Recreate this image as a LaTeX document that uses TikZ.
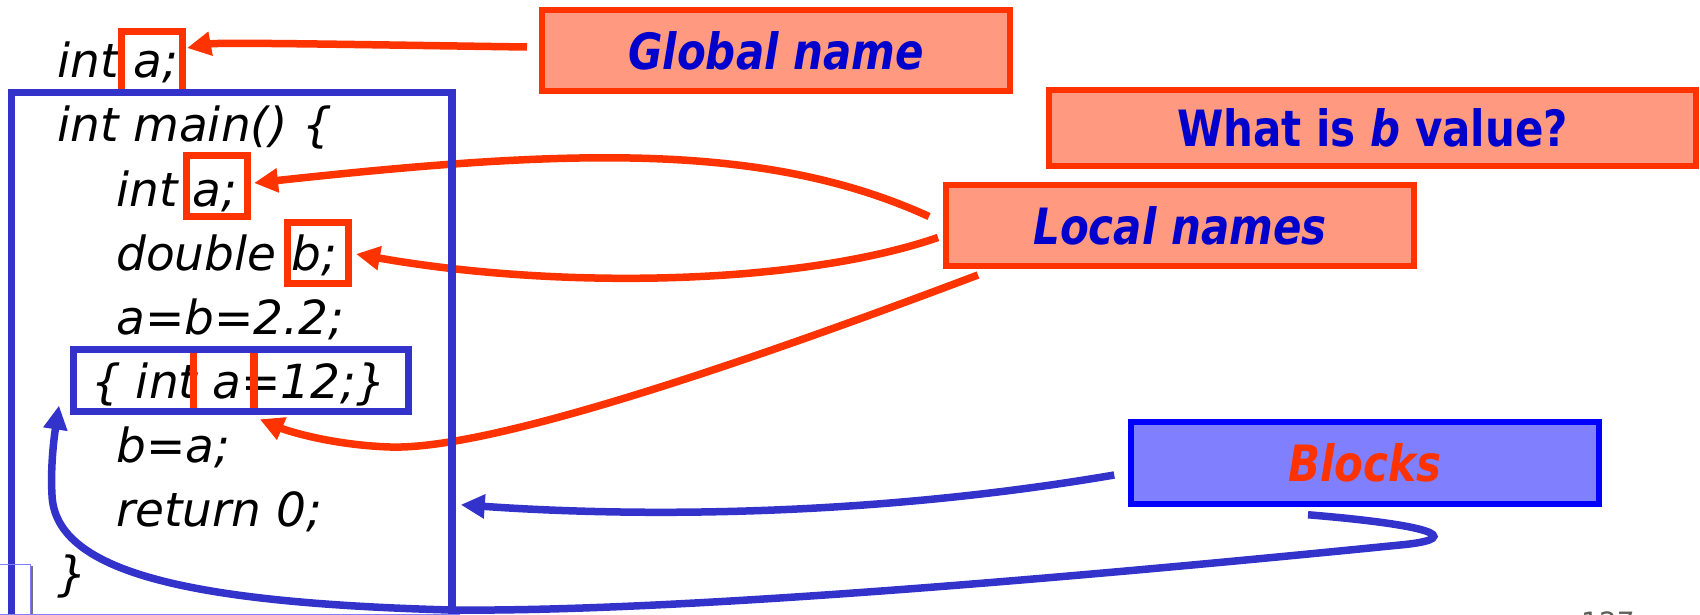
\documentclass[tikz,border=0pt]{standalone}
\usepackage{fontspec}
\usetikzlibrary{arrows.meta,calc}
\newfontfamily\codefont{DejaVu Sans}
\newfontfamily\tagfont[FakeStretch=0.84]{DejaVu Sans}
\definecolor{cred}{HTML}{FF3300}
\definecolor{csalmon}{HTML}{FF9980}
\definecolor{ctext}{HTML}{0000CC}
\definecolor{cblue}{HTML}{3333CC}
\definecolor{bfill}{HTML}{8080FF}
\definecolor{bstroke}{HTML}{0000FF}
\definecolor{pggray}{HTML}{5F5F58}
\begin{document}
\begin{tikzpicture}[x=1pt,y=-1pt,
  codeline/.style={anchor=base west, inner sep=0pt, font=\codefont\itshape\fontsize{47}{56}\selectfont},
  redbox/.style={draw=cred, line width=7pt, minimum width=61pt, minimum height=61pt, inner sep=0pt},
  bluebox/.style={draw=cblue, line width=7.5pt, inner sep=0pt},
  tagbox/.style={draw=cred, fill=csalmon, line width=6pt, inner sep=0pt, minimum width=468pt, minimum height=81pt, text=ctext, font=\tagfont\bfseries\fontsize{50}{60}\selectfont},
  redarrow/.style={draw=cred, line width=7.5pt, -{Triangle[length=24pt,width=23pt]}},
  bluearrow/.style={draw=cblue, line width=7.5pt, -{Triangle[length=24pt,width=23pt]}},
]
\useasboundingbox (0,0) rectangle (1700,615);
\fill[white] (0,0) rectangle (1700,615);
\clip (0,0) rectangle (1700,615);

% code
\node[codeline] (c1) at (57,78) {int a;};
\node[codeline] (c2) at (57,142) {int main() \{};
\node[codeline] (c3) at (116,206) {int a;};
\node[codeline] (c4) at (116,270) {double b;};
\node[codeline] (c5) at (116,334) {a=b=2.2;};
\node[codeline] (c6) at (91,398) {\{ int a=12;\}};
\node[codeline] (c7) at (116,462) {b=a;};
\node[codeline] (c8) at (116,526) {return 0;};
\node[codeline] (c9) at (57,590) {\}};

% red boxes
\node[redbox] (r1) at (152,62) {};
\node[redbox] (r3) at (217,186) {};
\node[redbox] (r4) at (318,253) {};
\node[redbox, line width=7.5pt, minimum width=60.5pt, minimum height=62pt] (r6) at (223.75,380.5) {};

% label boxes
\node[tagbox] (glob) at (776,50.5) {\itshape Global name};
\node[tagbox, minimum width=647pt, minimum height=76pt] (whatb) at (1372.5,128) {What is \textit{b} value?};
\node[tagbox] (loc) at (1180,225.5) {\itshape Local names};
\node[tagbox, draw=bstroke, fill=bfill, text=cred, line width=5.5pt, minimum height=82pt] (blk) at (1365,463) {\itshape Blocks};

% red connectors
\draw[redarrow] ($(glob.west)+(-12,-3.5)$) .. controls (380,45) and (220,42) .. ($(r1.north east)+(1,20)$);
\draw[redarrow] ($(loc.west)+(-14,-9)$) .. controls (762,140) and (560,150) .. ($(r3.east)+(3,-3)$);
\draw[redarrow] ($(loc.west)+(-5,12)$) .. controls (800,285) and (560,290) .. ($(r4.east)+(4,1)$);
\draw[redarrow] ($(loc.south west)+(35,6)$) .. controls (700,380) and (480,450) .. (390,447) .. controls (330,445) and (285,430) .. ($(r6.south east)+(2,4)$);

% blue boxes
\node[bluebox, minimum width=440.5pt, minimum height=525pt] (big) at (231.75,355) {};
\node[bluebox, line width=7pt, minimum width=335pt, minimum height=62pt] (ib) at (241,380.5) {};

% blue connectors
\draw[bluearrow] ($(blk.west)+(-14,12)$) .. controls (880,515) and (650,518) .. ($(big.east |- blk.south)+(5,-2)$);
\draw[bluearrow] ($(blk.south)+(-57,8)$) .. controls (1455,527) and (1455,540) .. (1400,545)
   .. controls (1000,585) and (650,612) .. (450,610)
   .. controls (200,603) and (55,575) .. (52,495)
   .. controls (50,460) and (56,425) .. ($(ib.south west)+(-11,-9.5)$);

% slide remnants
\draw[line width=1pt, bfill] (0,564.5) -- (30,564.5) -- (30,615);
\draw[line width=1.5pt, black!55] (32,566) -- (32,615);
\draw[line width=1pt, bfill] (0,614.5) -- (460,614.5);
\node[anchor=base west, inner sep=0pt, text=pggray, font=\codefont\fontsize{28}{30}\selectfont] (pg) at (1581,632) {127};
\end{tikzpicture}
\end{document}
